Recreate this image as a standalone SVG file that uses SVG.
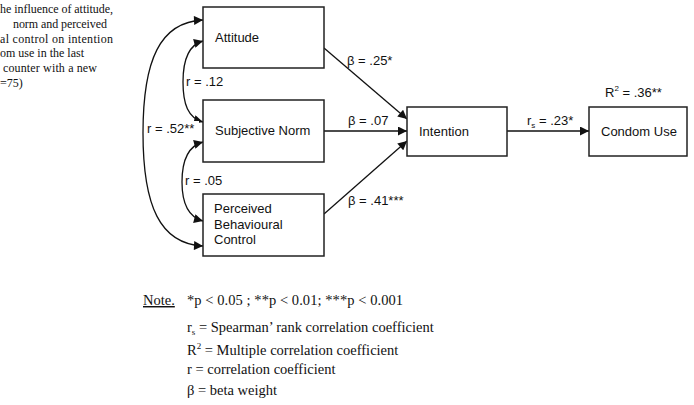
<svg xmlns="http://www.w3.org/2000/svg" width="694" height="405" viewBox="0 0 694 405">
<defs>
<marker id="ah" viewBox="0 0 10 10" refX="10" refY="5" markerWidth="10" markerHeight="9" markerUnits="userSpaceOnUse" orient="auto-start-reverse">
<path d="M0,0 L10,5 L0,10 z" fill="#111"/>
</marker>
<style>
.box{fill:#fff;stroke:#222;stroke-width:1.5}
.lbl{font-family:"Liberation Sans",Arial,sans-serif;font-size:13px;fill:#111}
.ser{font-family:"Liberation Serif","Times New Roman",serif;fill:#111}
.cap{font-size:12px}
.note{font-size:14.5px}
.con{fill:none;stroke:#111;stroke-width:1.3}
</style>
</defs>
<rect width="694" height="405" fill="#fff"/>
<g id="caption" class="ser cap">
<text x="0" y="13" textLength="113">he influence of attitude,</text>
<text x="13" y="28" textLength="94">norm and perceived</text>
<text x="0" y="43" textLength="113">al control on intention</text>
<text x="0" y="57">om use in the last</text>
<text x="3" y="72" textLength="94">counter with a new</text>
<text x="0" y="87">=75)</text>
</g>
<g id="connectors">
<path class="con" d="M203,20 C160,22 143,60 143,133 C143,206 160,244 203,246" marker-start="url(#ah)" marker-end="url(#ah)"/>
<path class="con" d="M203,41 C188,45 183,60 183,82 C183,104 188,118 203,122" marker-start="url(#ah)" marker-end="url(#ah)"/>
<path class="con" d="M203,142 C188,146 182,160 182,182 C182,204 188,217 203,221" marker-start="url(#ah)" marker-end="url(#ah)"/>
<line class="con" x1="324" y1="48" x2="407" y2="119" marker-end="url(#ah)"/>
<line class="con" x1="324" y1="131" x2="407" y2="131" marker-end="url(#ah)"/>
<line class="con" x1="324" y1="214" x2="407" y2="141" marker-end="url(#ah)"/>
<line class="con" x1="507" y1="131" x2="589" y2="131" marker-end="url(#ah)"/>
</g>
<g id="attitude"><rect class="box" x="203" y="7" width="121" height="61"/><text class="lbl" x="215" y="42">Attitude</text></g>
<g id="subjective-norm"><rect class="box" x="203" y="100" width="121" height="62"/><text class="lbl" x="215" y="135">Subjective Norm</text></g>
<g id="pbc"><rect class="box" x="203" y="194" width="121" height="62"/><text class="lbl" x="214" y="213">Perceived</text><text class="lbl" x="214" y="229">Behavioural</text><text class="lbl" x="214" y="244">Control</text></g>
<g id="intention"><rect class="box" x="407" y="107" width="100" height="49"/><text class="lbl" x="419" y="136">Intention</text></g>
<g id="condom-use"><rect class="box" x="589" y="107" width="98" height="49"/><text class="lbl" x="601" y="136">Condom Use</text></g>
<g id="labels" class="lbl">
<text x="347" y="65">β = .25*</text>
<text x="348" y="125">β = .07</text>
<text x="348" y="205">β = .41***</text>
<text x="186" y="86">r = .12</text>
<text x="185" y="185">r = .05</text>
<rect x="145" y="121" width="54" height="15" fill="#fff"/>
<text x="147" y="133">r = .52**</text>
<text x="527" y="125">r<tspan font-size="8" dy="3">s</tspan><tspan dy="-3"> = .23*</tspan></text>
<text x="605" y="97">R<tspan font-size="8" dy="-6">2</tspan><tspan dy="6"> = .36**</tspan></text>
</g>
<g id="note" class="ser note">
<text x="143" y="305" text-decoration="underline">Note.</text>
<text x="187" y="305" textLength="216">*p &lt;  0.05 ; **p &lt; 0.01; ***p &lt; 0.001</text>
<text x="187" y="332">r<tspan font-size="9" dy="3">s</tspan><tspan dy="-3"> = Spearman’ rank correlation coefficient</tspan></text>
<text x="187" y="355">R<tspan font-size="9" dy="-6">2</tspan><tspan dy="6"> = Multiple correlation coefficient</tspan></text>
<text x="187" y="374">r = correlation coefficient</text>
<text x="187" y="395">β = beta weight</text>
</g>
</svg>
